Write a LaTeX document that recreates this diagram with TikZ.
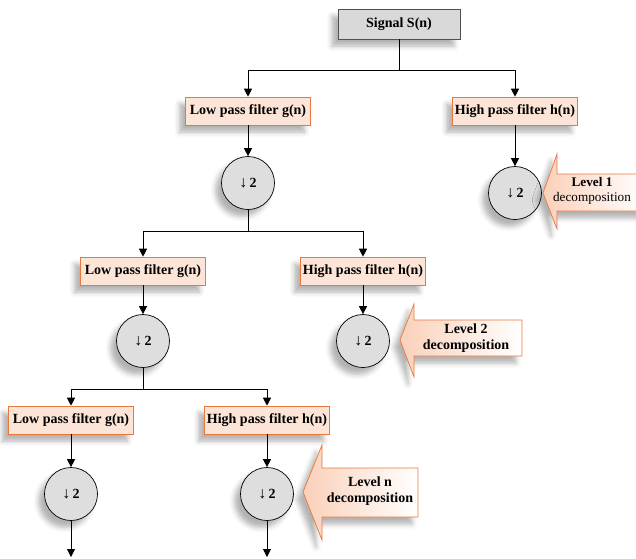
\documentclass[tikz,border=0pt]{standalone}
\usepackage{fontspec}
\setmainfont{Liberation Serif}
\usetikzlibrary{arrows.meta,shadows.blur}
\definecolor{peach}{RGB}{252,228,214}
\definecolor{peachdeep}{RGB}{250,208,185}
\definecolor{orangeE}{RGB}{232,120,60}
\definecolor{circgray}{RGB}{222,222,222}
\definecolor{siggray}{RGB}{217,217,217}
\definecolor{sigborder}{RGB}{80,80,80}
\begin{document}
\begin{tikzpicture}[x=1pt,y=-1pt,
  shad/.style={blur shadow={shadow xshift=-6pt,shadow yshift=-7pt,shadow blur radius=5pt,shadow opacity=30}},
  filt/.style={shad,draw=orangeE,fill=peach,line width=0.6pt,minimum width=125pt,minimum height=28pt,inner sep=0pt,font=\bfseries\fontsize{14}{16}\selectfont},
  sigbox/.style={shad,draw=sigborder,fill=siggray,line width=0.6pt,minimum width=122pt,minimum height=30pt,inner sep=0pt,font=\bfseries\fontsize{14}{16}\selectfont},
  down/.style={shad,circle,draw=black,fill=circgray,line width=0.7pt,minimum size=53pt,inner sep=0pt,font=\fontsize{14}{16}\selectfont},
  callout/.style={shad,draw=orangeE,line width=0.7pt,left color=peachdeep,right color=white},
  lvltext/.style={align=center,font=\fontsize{14}{16}\selectfont},
  conn/.style={line width=0.9pt,black},
  arr/.style={conn,-{Triangle[length=8pt,width=8pt]}}
]
\useasboundingbox (0,0) rectangle (636,558);
\begin{scope}
\clip (0,0) rectangle (636,558);

% nodes
\node[sigbox] (sig) at (399,24) {Signal S(n)};
\node[filt] (lp1) at (248,111) {Low pass filter g(n)};
\node[filt] (hp1) at (515,111) {High pass filter h(n)};
\node[down] (d1l) at (248,183) {{\fontsize{16}{16}\selectfont\char"2193}\,\textbf{2}};
\node[down] (d1h) at (515,193) {{\fontsize{16}{16}\selectfont\char"2193}\,\textbf{2}};

\node[filt] (lp2) at (143,271) {Low pass filter g(n)};
\node[filt] (hp2) at (363,271) {High pass filter h(n)};
\node[down] (d2l) at (143,341) {{\fontsize{16}{16}\selectfont\char"2193}\,\textbf{2}};
\node[down] (d2h) at (363,341) {{\fontsize{16}{16}\selectfont\char"2193}\,\textbf{2}};

\node[filt] (lp3) at (71,420) {Low pass filter g(n)};
\node[filt] (hp3) at (267,420) {High pass filter h(n)};
\node[down] (d3l) at (71,494) {{\fontsize{16}{16}\selectfont\char"2193}\,\textbf{2}};
\node[down] (d3h) at (267,494) {{\fontsize{16}{16}\selectfont\char"2193}\,\textbf{2}};

% connectors
\draw[conn] (sig.south) -- ++(0,31) coordinate (s1);
\draw[arr] (s1) -| (lp1.north);
\draw[arr] (s1) -| (hp1.north);
\draw[arr] (lp1.south) -- (d1l.north);
\draw[arr] (hp1.south) -- (d1h.north);

\draw[conn] (d1l.south) -- ++(0,22) coordinate (s2);
\draw[arr] (s2) -| (lp2.north);
\draw[arr] (s2) -| (hp2.north);
\draw[arr] (lp2.south) -- (d2l.north);
\draw[arr] (hp2.south) -- (d2h.north);

\draw[conn] (d2l.south) -- ++(0,22) coordinate (s3);
\draw[arr] (s3) -| (lp3.north);
\draw[arr] (s3) -| (hp3.north);
\draw[arr] (lp3.south) -- (d3l.north);
\draw[arr] (hp3.south) -- (d3h.north);

\coordinate (e1) at (71,557);
\coordinate (e2) at (267,557);
\draw[arr] (d3l.south) -- (e1);
\draw[arr] (d3h.south) -- (e2);

% level callouts
\draw[callout] (543,193) -- (557,154) -- (557,174) -- (645,174) -- (645,211) -- (557,211) -- (557,229) -- cycle;
\node[lvltext,font=\fontsize{13.2}{15}\selectfont] (lv1) at (592,191) {\textbf{Level 1}\\decomposition};

\draw[callout] (400,340) -- (414,304) -- (414,320) -- (522,320) -- (522,356) -- (414,356) -- (414,377) -- cycle;
\node[lvltext,font=\bfseries\fontsize{14}{16}\selectfont] (lv2) at (466,338) {Level 2\\decomposition};

\draw[callout] (303,492) -- (322,445) -- (322,468) -- (418,468) -- (418,517) -- (322,517) -- (322,540) -- cycle;
\node[lvltext,font=\bfseries\fontsize{14}{16}\selectfont] (lv3) at (370,491) {Level n\\decomposition};
\end{scope}
\end{tikzpicture}
\end{document}
